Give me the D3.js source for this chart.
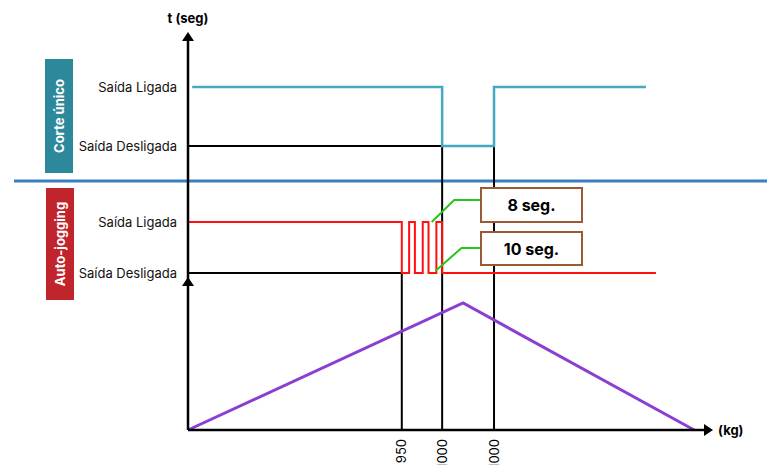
<!DOCTYPE html>
<html><head><meta charset="utf-8">
<script src="https://cdn.jsdelivr.net/npm/d3@7"></script>
<style>body{margin:0;background:#fff}svg{display:block;font-family:Inter,"Noto Sans",sans-serif}</style>
</head><body><svg id="c" width="767" height="465"></svg>
<script>
// abstract horizontal position units (0 = origin, 100 = end of x axis)
const xTickPos = [40.8, 48.5, 58.4];
const xTickLabels = ["950", "1000", "1000"];
// vertical levels (units above baseline)
const levelNames = ["Saída Ligada", "Saída Desligada", "Saída Ligada", "Saída Desligada"];
const levelValues = [343, 284, 208, 157];
const panelNames = ["Corte único", "Auto-jogging"];
// single-cut output signal
const cutX = [0.8, 48.5, 48.5, 58.4, 58.4, 87.4];
const cutY = [343, 343, 284, 284, 343, 343];
// auto-jogging output signal
const jogX = [0, 40.8, 40.8, 42.2, 42.2, 43.3, 43.3, 44.8, 44.8, 45.9, 45.9, 47.4, 47.4, 48.5, 48.5, 89.3];
const jogY = [208, 208, 157, 157, 208, 208, 157, 157, 208, 208, 157, 157, 208, 208, 157, 157];
// weight ramp
const rampX = [0, 52.5, 96.6];
const rampY = [0, 127, 0];
const noteLabels = ["8 seg.", "10 seg."];

const svg = d3.select("#c");
const x = d3.scaleLinear().domain([0, 100]).range([188, 712]);
const y = d3.scaleLinear().domain([0, 400]).range([430, 30]);
const line = d3.line().x(d => x(d[0])).y(d => y(d[1]));

// separator
svg.append("line").attr("x1", 14).attr("x2", 767).attr("y1", y(249)).attr("y2", y(249))
  .attr("stroke", "#3b7fc0").attr("stroke-width", 3);

// black guide lines
const guides = [
  [[0, 284], [48.5, 284]], [[48.5, 284], [48.5, 0]], [[58.4, 284], [58.4, 0]],
  [[0, 157], [40.8, 157]], [[40.8, 157], [40.8, 0]]
];
svg.append("g").selectAll("path").data(guides).join("path")
  .attr("d", line).attr("stroke", "#000").attr("stroke-width", 2).attr("fill", "none");

// ramp
svg.append("path").attr("d", line(rampX.map((v, i) => [v, rampY[i]])))
  .attr("fill", "none").attr("stroke", "#8a3fd1").attr("stroke-width", 3);

// cut signal
svg.append("path").attr("d", line(cutX.map((v, i) => [v, cutY[i]])))
  .attr("fill", "none").attr("stroke", "#46a9c4").attr("stroke-width", 2.5);

// jog signal
svg.append("path").attr("d", line(jogX.map((v, i) => [v, jogY[i]])))
  .attr("fill", "none").attr("stroke", "#ff1010").attr("stroke-width", 2);

// axes
const arrow = (tx, ty, dir) => {
  if (dir === "up") return `M${tx},${ty} L${tx - 6},${ty + 9} L${tx + 6},${ty + 9} Z`;
  return `M${tx},${ty} L${tx - 9},${ty - 6} L${tx - 9},${ty + 6} Z`;
};
svg.append("line").attr("x1", x(0)).attr("x2", x(0)).attr("y1", y(0)).attr("y2", 40)
  .attr("stroke", "#000").attr("stroke-width", 2.5);
svg.append("path").attr("d", arrow(x(0), 32, "up")).attr("fill", "#000");
svg.append("path").attr("d", arrow(x(0), 277, "up")).attr("fill", "#000");
svg.append("line").attr("x1", x(0)).attr("x2", 705).attr("y1", y(0)).attr("y2", y(0))
  .attr("stroke", "#000").attr("stroke-width", 2.5);
svg.append("path").attr("d", arrow(713, y(0), "right")).attr("fill", "#000");

svg.append("text").attr("x", x(0)).attr("y", 23).attr("text-anchor", "middle")
  .attr("font-weight", "bold").attr("font-size", 13).text("t (seg)");
svg.append("text").attr("x", 718).attr("y", y(0) + 5)
  .attr("font-weight", "bold").attr("font-size", 13).text("(kg)");

// x tick labels rotated
svg.append("g").selectAll("text").data(xTickLabels).join("text")
  .attr("transform", (d, i) => `translate(${x(xTickPos[i]) + 4.5},439) rotate(-90)`)
  .attr("text-anchor", "end").attr("font-size", 13).text(d => d);

// level labels
svg.append("g").selectAll("text").data(levelNames).join("text")
  .attr("x", 177).attr("y", (d, i) => y(levelValues[i]) + 4.5)
  .attr("text-anchor", "end").attr("font-size", 13).attr("fill", "#111").text(d => d);

// panel labels
const panels = [{c: "#2e889c", x: 45, y0: 59, y1: 173}, {c: "#c0242c", x: 46, y0: 188, y1: 300}];
panels.forEach((p, i) => {
  svg.append("rect").attr("x", p.x).attr("y", p.y0).attr("width", 28).attr("height", p.y1 - p.y0).attr("fill", p.c);
  svg.append("text").attr("transform", `translate(${p.x + 19},${(p.y0 + p.y1) / 2}) rotate(-90)`)
    .attr("text-anchor", "middle").attr("fill", "#fff").attr("font-weight", "bold").attr("font-size", 13)
    .text(panelNames[i]);
});

// notes
const notes = [
  {y0: 188, y1: 222, lead: [[46.5, 208], [50.8, 230], [55.7, 230]]},
  {y0: 232, y1: 265, lead: [[47.2, 159], [52.2, 182], [55.7, 182]]}
];
notes.forEach((n, i) => {
  svg.append("path").attr("d", line(n.lead)).attr("fill", "none").attr("stroke", "#27c41c").attr("stroke-width", 2);
  svg.append("rect").attr("x", 481).attr("y", n.y0).attr("width", 101).attr("height", n.y1 - n.y0)
    .attr("fill", "#fff").attr("stroke", "#9b5a33").attr("stroke-width", 2);
  svg.append("text").attr("x", 531.5).attr("y", (n.y0 + n.y1) / 2 + 6).attr("text-anchor", "middle")
    .attr("font-weight", "bold").attr("font-size", 16).text(noteLabels[i]);
});
</script></body></html>
